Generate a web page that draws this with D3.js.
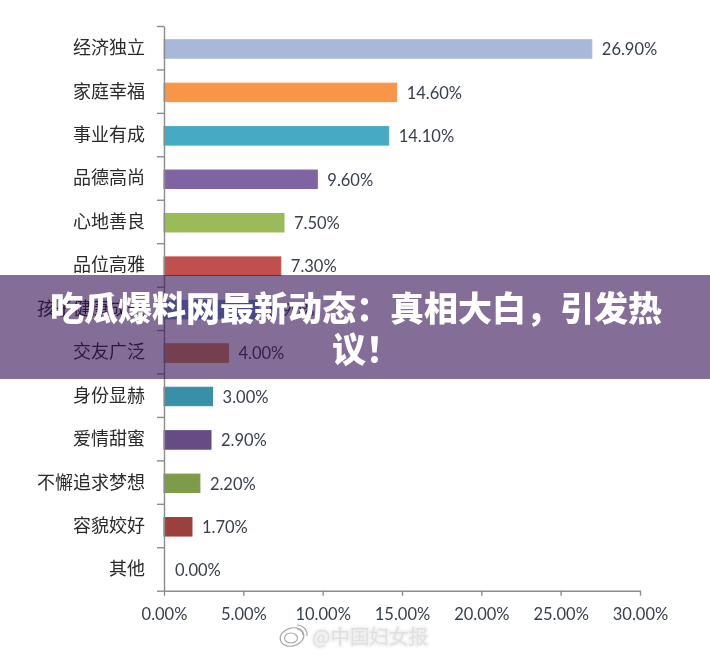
<!DOCTYPE html>
<html>
<head>
<meta charset="utf-8">
<script src="https://cdn.jsdelivr.net/npm/d3@7"></script>
<style>
  html, body { margin: 0; padding: 0; background: #fff; overflow: hidden; }
  .cat { font-family: "Noto Sans CJK SC", sans-serif; font-size: 18px; fill: #2a2a2a; }
  .val, .x-axis text { font-family: Lato, sans-serif; font-size: 16.5px; fill: #39404d; }
  .x-axis path, .x-axis line, .y-axis path, .y-axis line { stroke: #8c8c8c; stroke-width: 1.4; }
  .title { font-family: "Noto Sans CJK SC", sans-serif; font-size: 34px; font-weight: 900; fill: #fff; }
  .mark { font-family: "Noto Sans CJK SC", sans-serif; font-size: 19.5px; fill: #e0e0e0; }
</style>
</head>
<body>
<svg id="chart" width="710" height="655"></svg>
<script>
var categories = ["经济独立", "家庭幸福", "事业有成", "品德高尚", "心地善良", "品位高雅", "孩子健康成长",
                  "交友广泛", "身份显赫", "爱情甜蜜", "不懈追求梦想", "容貌姣好", "其他"];
var shares = [26.9, 14.6, 14.1, 9.6, 7.5, 7.3, 5.9, 4.0, 3.0, 2.9, 2.2, 1.7, 0.0];
var xTicks = [0, 5, 10, 15, 20, 25, 30];
var barColors = ["#a8b8d8", "#f79646", "#47aac5", "#8064a2", "#9bbb59", "#c0504d", "#6ea2dc",
                 "#d78e50", "#378fa8", "#664c84", "#7d9b48", "#9c403e", "#999999"];
var titleLines = ["吃瓜爆料网最新动态：真相大白，引发热", "议！"];
var watermark = "@中国妇女报";

var svg = d3.select("#chart");

// slight blur, the reference is an upscaled screenshot
svg.append("defs").append("filter").attr("id", "soft")
    .append("feGaussianBlur").attr("stdDeviation", 0.45);
var glow = svg.select("defs").append("filter").attr("id", "glow");
glow.append("feGaussianBlur").attr("stdDeviation", 0.8);

var x = d3.scaleLinear().domain([0, 30]).range([164, 640]);
var y = d3.scaleBand().domain(categories).range([26, 590.7]);
var rows = d3.scaleLinear().domain([0, categories.length]).range([26, 590.7]);

var plot = svg.append("g").attr("filter", "url(#soft)");

// bars, with a thin edge of their own colour
plot.selectAll("rect.bar")
    .data(categories)
    .enter()
    .append("rect")
    .attr("class", "bar")
    .attr("x", x(0))
    .attr("y", function (d) { return y(d) + y.bandwidth() / 2 - 8; })
    .attr("width", function (d, i) { return x(shares[i]) - x(0) + 1; })
    .attr("height", 18.5)
    .attr("fill", function (d, i) { return barColors[i]; })
    .attr("stroke", function (d, i) { return shares[i] > 0 ? barColors[i] : "none"; })
    .attr("stroke-width", 1);

// axes, the left ticks sit between the rows
plot.append("g")
    .attr("class", "y-axis")
    .attr("transform", "translate(164,0)")
    .call(d3.axisLeft(rows).tickValues(d3.range(categories.length + 1)).tickFormat("").tickSize(7).tickSizeOuter(0));

plot.append("g")
    .attr("class", "x-axis")
    .attr("transform", "translate(0,590.7)")
    .call(d3.axisBottom(x).tickValues(xTicks).tickFormat(function (d) { return d.toFixed(2) + "%"; }).tickSize(5).tickSizeOuter(0).tickPadding(13))
    .selectAll("text").attr("fill", null);

// category names
plot.selectAll("text.cat")
    .data(categories)
    .enter()
    .append("text")
    .attr("class", "cat")
    .attr("x", 145)
    .attr("y", function (d) { return y(d) + y.bandwidth() / 2 - 1.6; })
    .attr("text-anchor", "end")
    .attr("dominant-baseline", "central")
    .text(function (d) { return d; });

// value labels
plot.selectAll("text.val")
    .data(categories)
    .enter()
    .append("text")
    .attr("class", "val")
    .attr("x", function (d, i) { return x(shares[i]) + 11; })
    .attr("y", function (d) { return y(d) + y.bandwidth() / 2 + 7.5; })
    .text(function (d, i) { return shares[i].toFixed(2) + "%"; });

// watermark
var wm = svg.append("g");
wm.append("text").attr("class", "mark").attr("x", 312).attr("y", 644)
    .attr("stroke", "#f0f0f0").attr("stroke-width", 3).attr("filter", "url(#glow)").text(watermark);
wm.append("text").attr("class", "mark").attr("x", 312).attr("y", 644).text(watermark);
var logo = wm.append("g").attr("fill", "none").attr("stroke", "#a8a8a8").attr("stroke-width", 1.2);
logo.append("ellipse").attr("cx", 292).attr("cy", 637).attr("rx", 12).attr("ry", 9).attr("transform", "rotate(-15 292 637)");
logo.append("ellipse").attr("cx", 291).attr("cy", 638).attr("rx", 6.5).attr("ry", 5);
logo.append("path").attr("d", "M297 625 A10 10 0 0 1 307 636");
logo.append("path").attr("d", "M297 629 A6 6 0 0 1 303 635");

// banner on top of the chart
svg.append("rect")
    .attr("x", 0).attr("y", 275)
    .attr("width", 710).attr("height", 104)
    .attr("fill", "rgb(50,12,80)")
    .attr("fill-opacity", 0.6);

// the second line sits a little right of centre in the reference
svg.selectAll("text.title")
    .data(titleLines)
    .enter()
    .append("text")
    .attr("class", "title")
    .attr("x", function (d, i) { return i === 0 ? 356 : 366; })
    .attr("y", function (d, i) { return 306 + i * 41; })
    .attr("text-anchor", "middle")
    .attr("dominant-baseline", "central")
    .text(function (d) { return d; });
</script>
</body>
</html>
